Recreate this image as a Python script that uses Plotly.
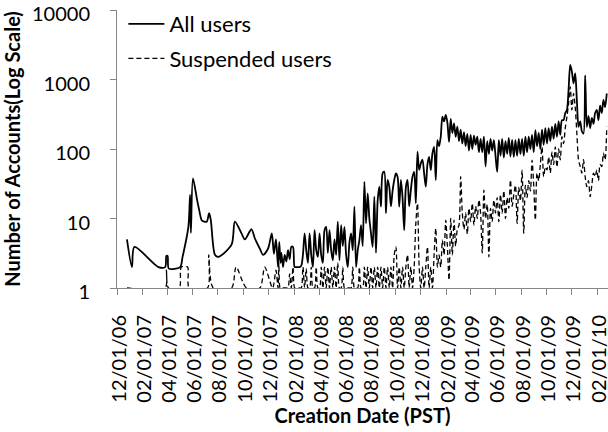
import pandas as pd
import plotly.graph_objects as go

# ---- early period (sparse, irregular dates) ----
early_dates_all = ["2006-12-25", "2007-01-06", "2007-01-12", "2007-03-11", "2007-03-27",
                   "2007-03-30", "2007-04-02", "2007-04-05", "2007-05-02", "2007-05-08",
                   "2007-05-22", "2007-05-26", "2007-05-28", "2007-06-02", "2007-06-12",
                   "2007-06-17", "2007-06-24", "2007-07-05", "2007-07-11", "2007-07-15",
                   "2007-07-25", "2007-08-02", "2007-09-03", "2007-09-11", "2007-09-27",
                   "2007-10-05", "2007-10-21", "2007-10-29", "2007-11-10", "2007-11-18",
                   "2007-11-30", "2007-12-09", "2007-12-14", "2007-12-19", "2007-12-24",
                   "2007-12-27", "2007-12-30"]
early_all = [5.0, 2.0, 3.9, 2.0, 2.0,
             2.9, 2.9, 1.9, 2.0, 2.8,
             7.6, 21.8, 6.2, 37.7, 18.5,
             13.3, 9.3, 9.0, 11.9, 9.5,
             3.0, 2.8, 4.2, 9.0, 6.1,
             5.0, 7.0, 5.2, 3.7, 3.0,
             3.7, 6.1, 3.1, 5.0, 2.0,
             4.6, 2.3]

early_dates_susp = ["2006-12-25", "2007-03-27", "2007-03-30", "2007-04-04", "2007-04-30",
                    "2007-05-05", "2007-05-20", "2007-05-24", "2007-07-07", "2007-07-10",
                    "2007-07-21", "2007-09-03", "2007-09-14", "2007-10-09", "2007-11-10",
                    "2007-11-22", "2007-12-11", "2007-12-19", "2007-12-24", "2007-12-26",
                    "2007-12-29"]
early_susp = [1, 1, 1.8, 1, 1,
              2, 2, 1, 1, 3,
              1, 1, 2, 1, 1,
              2, 1, 1.8, 1, 2.3,
              1]

# ---- dense period: one value every 4 days from 2008-01-01 ----
dense_start = "2008-01-01"
dense_step = "4D"
dense_all = [
    3.2, 2.0, 3.0, 2.4, 3.5, 2.6, 3.9, 3.9, 2.0, 2.0,
    2.0, 2.0, 2.1, 3.0, 6.1, 3.5, 2.3, 6.1, 3.0, 2.0,
    6.8, 3.5, 2.8, 6.1, 3.0, 2.3, 6.8, 7.6, 3.2, 6.8,
    3.5, 2.5, 5.0, 3.0, 9.0, 2.5, 8.0, 4.0, 7.6, 3.0,
    2.0, 4.5, 6.1, 3.5, 14.8, 2.0, 3.5, 4.9, 8.0, 4.0,
    33.7, 8.5, 23, 10, 6.1, 3.9, 20.6, 3.2, 18, 28.7,
    14.8, 44.6, 47, 11.9, 35.8, 28.7, 15, 25, 35.8, 44.6,
    40, 14.8, 35.8, 20, 6.8, 28, 35.8, 15, 25.6, 40,
    47, 16.5, 91.5, 50, 62, 70, 44.6, 28.7, 60, 77,
    49.8, 86.6, 107, 35.8, 134, 110, 150, 292, 250, 309,
    240, 127, 270, 170, 233, 150, 210, 130, 190, 120,
    175, 110, 165, 95, 160, 100, 155, 115, 150, 90,
    140, 90, 150, 56, 130, 85, 140, 95, 134, 80,
    47, 134, 80, 140, 75, 130, 85, 145, 78, 135,
    77, 134, 80, 140, 85, 140, 80, 150, 90, 150,
    100, 160, 90, 187, 110, 170, 100, 190, 115, 200,
    120, 200, 130, 210, 140, 230, 150, 250, 160, 260,
    260, 330, 364, 708, 1620, 1300, 880, 1220, 500, 209,
    250, 180, 167, 1150, 209, 300, 200, 280, 230, 330,
    364, 260, 420, 330, 510, 400, 630,
]
dense_susp = [
    1, 1, 1, 1, 1, 1.6, 1, 2, 1, 1,
    1, 1, 1, 2, 1, 1.9, 1, 1, 2, 1,
    1, 2, 1, 1, 2, 1, 2, 1, 2, 1,
    2, 1, 2, 1, 2.3, 1, 1, 2, 1, 1,
    1, 1, 1, 2, 1, 1, 1, 2, 1, 1,
    2, 1, 2, 1, 2, 1, 2, 1, 2, 1,
    2, 1, 2, 1, 2, 1, 2, 1, 3, 3.9,
    1, 2, 1, 2, 1, 2, 3, 1, 2, 1,
    2, 8.5, 16.5, 2, 1, 2, 1, 2, 3.9, 1,
    2, 1, 3, 7.2, 2, 3, 2, 4.9, 3, 9.5,
    4, 1.3, 10, 3, 9.5, 4, 7, 8, 40, 11.9,
    7, 12, 6, 14, 9, 16.5, 8, 15, 10, 18.5,
    12, 3.2, 25.6, 10, 16, 2.8, 14, 9, 18.5, 12,
    20, 9, 22, 12, 25, 10, 20, 14, 35.8, 15,
    22, 30, 8.5, 28, 18, 49.8, 6.1, 30, 20, 35,
    25, 69, 30, 9.5, 45, 35, 60, 107, 40, 55,
    50, 77, 45, 90, 60, 107, 55, 100, 70, 150,
    120, 200, 290, 450, 785, 364, 630, 400, 167, 69,
    56, 45, 70, 40, 28.7, 35, 20.6, 30, 45, 40,
    50, 35, 60, 56, 87, 70, 209,
]

series_names = ["All users", "Suspended users"]
y_tick_vals = [1, 10, 100, 1000, 10000]
y_tick_text = ["1", "10", "100", "1000", "10000"]
x_range = ["2006-12-01", "2010-02-26"]

dense_dates_all = pd.date_range(dense_start, periods=len(dense_all), freq=dense_step)
dense_dates_susp = pd.date_range(dense_start, periods=len(dense_susp), freq=dense_step)

x_all = list(pd.to_datetime(early_dates_all)) + list(dense_dates_all)
y_all = early_all + dense_all
x_susp = list(pd.to_datetime(early_dates_susp)) + list(dense_dates_susp)
y_susp = early_susp + dense_susp

FONT = "Lato"

fig = go.Figure()
fig.add_trace(go.Scatter(
    x=x_all, y=y_all, mode="lines", name=series_names[0],
    line=dict(color="black", width=1.8, shape="spline", smoothing=0.8),
    legendgroup="a",
))
fig.add_trace(go.Scatter(
    x=x_susp, y=y_susp, mode="lines", name=series_names[1],
    line=dict(color="black", width=1.3, dash="5px,3px", shape="spline", smoothing=0.8),
    legendgroup="b",
))

fig.update_layout(
    width=608, height=432,
    margin=dict(l=117, r=0, t=10, b=144, autoexpand=False),
    paper_bgcolor="white", plot_bgcolor="white",
    font=dict(family=FONT, color="black", size=20),
    showlegend=True,
    legend=dict(
        x=0.013, y=1.025, xanchor="left", yanchor="top",
        bgcolor="rgba(0,0,0,0)", font=dict(size=22, family=FONT),
        traceorder="grouped", tracegroupgap=3, itemwidth=36,
    ),
    xaxis=dict(
        type="date", range=x_range, automargin=False,
        tick0="2006-12-01", dtick="M2", tickformat="%m/%d/%y",
        tickangle=-90, ticks="outside", ticklen=6, tickcolor="#868686",
        showline=True, linecolor="#868686", linewidth=1,
        showgrid=False, zeroline=False,
        tickfont=dict(size=20, family=FONT),
        ticklabelstandoff=12, ticklabelshift=2, ticklabeloverflow="allow",
        title=dict(text="<b>Creation Date (PST)</b>", font=dict(size=20, family=FONT), standoff=6),
    ),
    yaxis=dict(
        type="log", range=[0, 4], automargin=False,
        tickvals=y_tick_vals, ticktext=y_tick_text,
        ticks="outside", ticklen=6, tickcolor="#868686",
        showline=True, linecolor="#868686", linewidth=1,
        showgrid=False, zeroline=False,
        tickfont=dict(size=20, family=FONT),
        ticklabelstandoff=16, ticklabelshift=4, ticklabeloverflow="allow",
        title=dict(text="<b>Number of Accounts(Log Scale)</b>", font=dict(size=20, family=FONT), standoff=8),
    ),
)

fig.write_html(
    "out.html",
    config={"displayModeBar": False},
    post_script="document.body.style.margin='0px';document.body.style.padding='0px';",
)
